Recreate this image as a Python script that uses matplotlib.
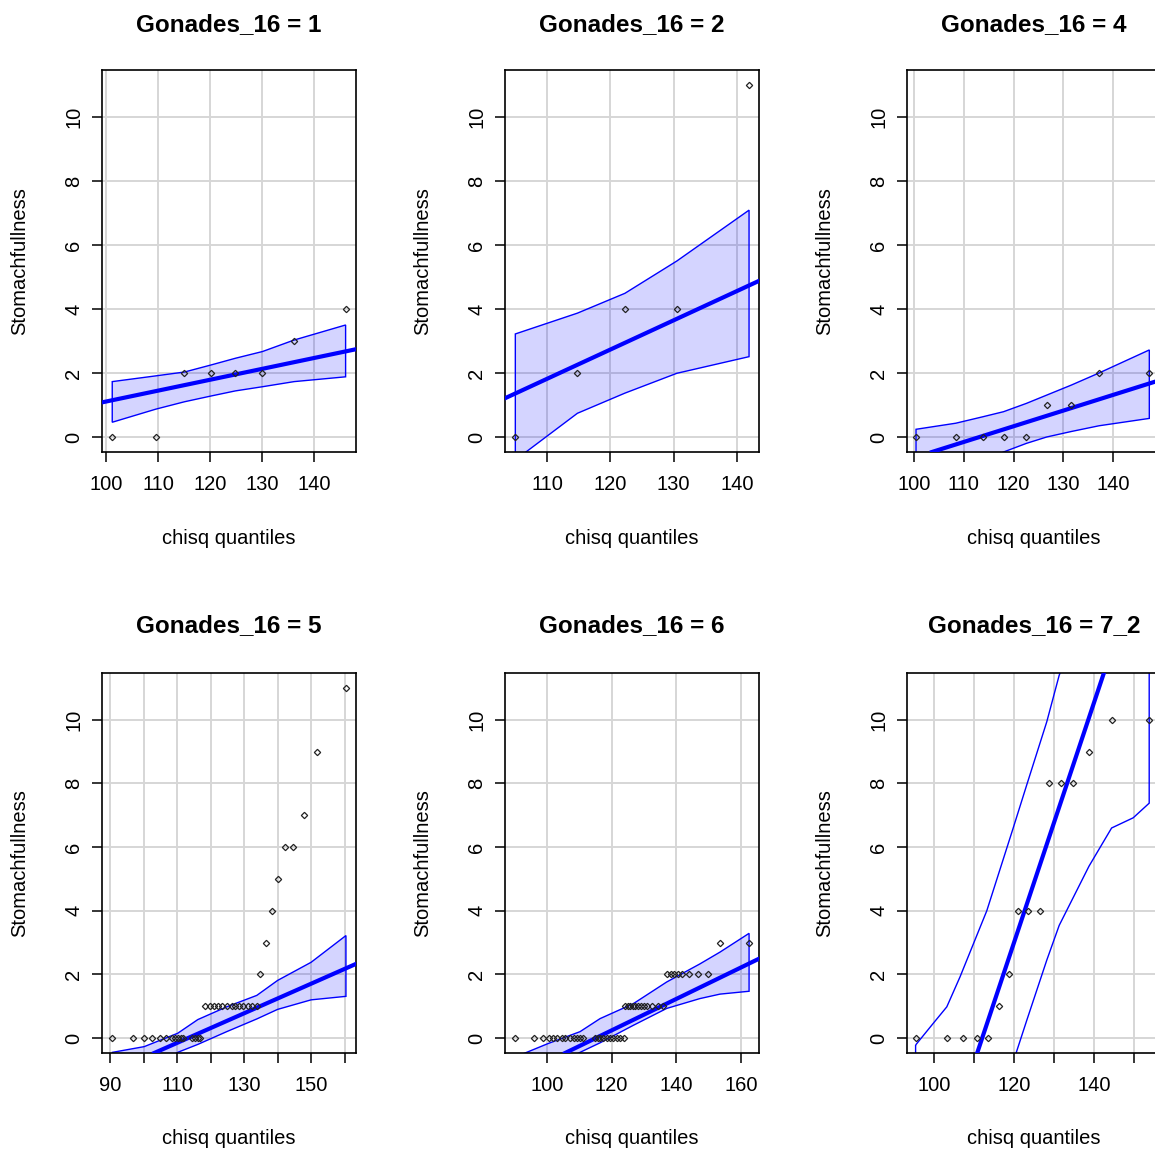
import matplotlib
matplotlib.use("Agg")
import matplotlib.pyplot as plt
import numpy as np

plt.rcParams['font.family'] = ['Liberation Sans', 'DejaVu Sans']

# ---- data ----
titles = ["Gonades_16 = 1", "Gonades_16 = 2", "Gonades_16 = 4",
          "Gonades_16 = 5", "Gonades_16 = 6", "Gonades_16 = 7_2"]

# panel 1
p1_x = [101.2, 109.6, 115.1, 120.2, 124.9, 130.1, 136.2, 146.1]
p1_y = [0, 0, 2, 2, 2, 2, 3, 4]
p1_env_x = [101.2, 109.6, 115.1, 120.2, 124.9, 130.1, 136.2, 146.1]
p1_env_up = [1.73, 1.91, 2.03, 2.25, 2.46, 2.67, 3.03, 3.50]
p1_env_lo = [0.46, 0.87, 1.10, 1.28, 1.44, 1.57, 1.73, 1.88]
p1_line = (99.2, 1.08, 0.034)   # x0, y0, slope

# panel 2
p2_x = [105.0, 114.8, 122.3, 130.5, 141.9]
p2_y = [0, 2, 4, 4, 11]
p2_env_x = [105.0, 114.8, 122.3, 130.5, 141.9]
p2_env_up = [3.22, 3.87, 4.49, 5.50, 7.09]
p2_env_lo = [-0.72, 0.74, 1.37, 1.99, 2.51]
p2_line = (103.37, 1.21, 0.0915)

# panel 3
p3_x = [100.4, 108.4, 113.8, 118.0, 122.6, 126.7, 131.6, 137.2, 147.3]
p3_y = [0, 0, 0, 0, 0, 1, 1, 2, 2]
p3_env_x = [100.4, 108.4, 113.8, 118.0, 122.6, 126.7, 131.6, 137.2, 147.3]
p3_env_up = [0.24, 0.43, 0.63, 0.79, 1.05, 1.31, 1.62, 2.00, 2.72]
p3_env_lo = [-1.70, -1.20, -0.80, -0.47, -0.20, 0.00, 0.17, 0.35, 0.58]
p3_line = (103.6, -0.47, 0.049)

# panel 4
p4_x = [90.7, 97.0, 100.2, 102.6, 104.9, 106.6, 108.4, 109.4, 110.2, 111.2,
        111.9, 114.4, 115.4, 116.2, 116.9,
        118.4, 119.9, 121.0, 122.3, 123.5, 124.8, 126.3, 127.3, 128.5, 129.8,
        131.1, 132.3, 133.8,
        134.8, 136.6, 138.3, 140.0, 142.2, 144.5, 147.9, 151.9, 160.4]
p4_y = [0] * 15 + [1] * 13 + [2, 3, 4, 5, 6, 6, 7, 9, 11]
p4_env_x = [90.7, 100.2, 110.2, 116.2, 124.8, 133.8, 140.0, 150.0, 160.4]
p4_env_up = [-0.45, -0.27, 0.15, 0.58, 0.98, 1.34, 1.81, 2.38, 3.22]
p4_env_lo = [-1.70, -1.00, -0.45, -0.20, 0.20, 0.60, 0.90, 1.20, 1.31]
p4_line = (163.4, 2.33, 0.0465)

# panel 5
p5_x = [90.1, 96.0, 98.9, 100.7, 102.0, 103.2, 104.5, 105.6, 107.1, 108.4,
        109.4, 110.2, 111.2, 114.8, 115.7, 116.4, 117.4, 118.5, 119.5, 120.5,
        121.6, 122.6, 123.8,
        124.0, 124.9, 125.7, 126.5, 127.3, 128.2, 129.0, 130.0, 131.0, 132.6,
        134.2, 136.0,
        137.0, 138.3, 139.4, 140.4, 141.7, 144.0, 146.8, 149.9,
        153.5, 162.5]
p5_y = [0] * 23 + [1] * 12 + [2] * 8 + [3, 3]
p5_env_x = [90.1, 100.4, 110.2, 116.4, 126.7, 137.0, 147.3, 153.5, 162.5]
p5_env_up = [-0.60, -0.17, 0.20, 0.61, 1.08, 1.76, 2.33, 2.70, 3.29]
p5_env_lo = [-1.80, -1.00, -0.45, -0.15, 0.40, 0.93, 1.24, 1.38, 1.47]
p5_line = (105.6, -0.47, 0.0494)

# panel 6
p6_x = [95.4, 103.2, 107.3, 110.7, 113.6, 116.3, 118.8, 121.1, 123.6, 126.5,
        128.8, 131.7, 134.8, 138.75, 144.4, 153.8]
p6_y = [0, 0, 0, 0, 0, 1, 2, 4, 4, 4, 8, 8, 8, 9, 10, 10]
p6_env_x = [95.4, 99.8, 103.2, 106.5, 113.2, 119.8, 123.2, 128.2, 131.3,
            138.75, 144.4, 149.8, 153.8]
p6_env_up = [-0.22, 0.46, 0.98, 1.92, 4.0, 6.6, 7.96, 9.94, 11.4,
             13.8, 15.5, 16.8, 17.8]
p6_env_lo = [-7.5, -6.5, -5.6, -4.7, -2.6, -0.75, 0.56, 2.45, 3.54,
             5.4, 6.6, 6.92, 7.38]
p6_line = (110.8, -0.47, 0.377)

panels = [
    (p1_x, p1_y, p1_env_x, p1_env_up, p1_env_lo, p1_line),
    (p2_x, p2_y, p2_env_x, p2_env_up, p2_env_lo, p2_line),
    (p3_x, p3_y, p3_env_x, p3_env_up, p3_env_lo, p3_line),
    (p4_x, p4_y, p4_env_x, p4_env_up, p4_env_lo, p4_line),
    (p5_x, p5_y, p5_env_x, p5_env_up, p5_env_lo, p5_line),
    (p6_x, p6_y, p6_env_x, p6_env_up, p6_env_lo, p6_line),
]

xlims = [(99.23, 148.1), (103.37, 143.47), (98.59, 149.65),
         (87.61, 163.4), (87.0, 165.57), (93.25, 156.75)]
xticks = [[100, 110, 120, 130, 140], [110, 120, 130, 140], [100, 110, 120, 130, 140],
          [90, 100, 110, 120, 130, 140, 150, 160], [100, 120, 140, 160],
          [100, 110, 120, 130, 140, 150]]
xticklabels = [["100", "110", "120", "130", "140"], ["110", "120", "130", "140"],
               ["100", "110", "120", "130", "140"],
               ["90", "", "110", "", "130", "", "150", ""],
               ["100", "120", "140", "160"],
               ["100", "", "120", "", "140", ""]]
yticks = [0, 2, 4, 6, 8, 10]

# ---- layout (pixel boxes from the reference) ----
W, H = 1155, 1151
fig = plt.figure(figsize=(W / 100, H / 100), dpi=100)
lefts = [102, 505, 907]
rows = [(70, 452), (673, 1053)]
pw = 254

for i, (px, py, ex, eu, el, ln) in enumerate(panels):
    r, c = divmod(i, 3)
    top, bot = rows[r]
    ax = fig.add_axes([lefts[c] / W, 1 - bot / H, pw / W, (bot - top) / H])

    ax.set_xlim(*xlims[i])
    ax.set_ylim(-0.47, 11.47)
    ax.set_xticks(xticks[i])
    ax.set_xticklabels(xticklabels[i])
    ax.set_yticks(yticks)
    ax.set_yticklabels([str(v) for v in yticks])
    ax.grid(True, color="#d6d6d6", lw=1.4, zorder=0)
    ax.set_axisbelow(True)

    ax.tick_params(length=7.5, width=1.1, labelsize=14.5, color="black")
    ax.tick_params(axis="x", pad=9)
    ax.tick_params(axis="y", pad=6, labelrotation=90)
    for lab in ax.get_yticklabels():
        lab.set_va("center")
    for s in ax.spines.values():
        s.set_linewidth(1.2)

    # envelope
    poly_x = np.concatenate([ex, ex[::-1]])
    poly_y = np.concatenate([eu, el[::-1]])
    face = "none" if i == 5 else (0, 0, 1, 0.17)
    ax.fill(poly_x, poly_y, facecolor=face, edgecolor="blue", lw=1.0, zorder=2)

    # reference line
    x0, y0, b = ln
    ax.axline((x0, y0), slope=b, color="blue", lw=3, zorder=3)

    ax.plot(px, py, ls="none", marker="D", ms=3.2, mfc="none", mec="#222222",
            mew=0.9, zorder=4)

    ax.text(0.5, (bot - (top - 45 if r == 0 else top - 47)) / (bot - top),
            titles[i], transform=ax.transAxes, ha="center", va="center",
            fontsize=17.5, fontweight="bold")
    ax.text(0.5, -86 / (bot - top), "chisq quantiles", transform=ax.transAxes,
            ha="center", va="center", fontsize=14.5)
    ax.text(-82 / pw, 0.5, "Stomachfullness", transform=ax.transAxes,
            ha="center", va="center", rotation=90, fontsize=14.5)

fig.savefig("out.png", dpi=100)
